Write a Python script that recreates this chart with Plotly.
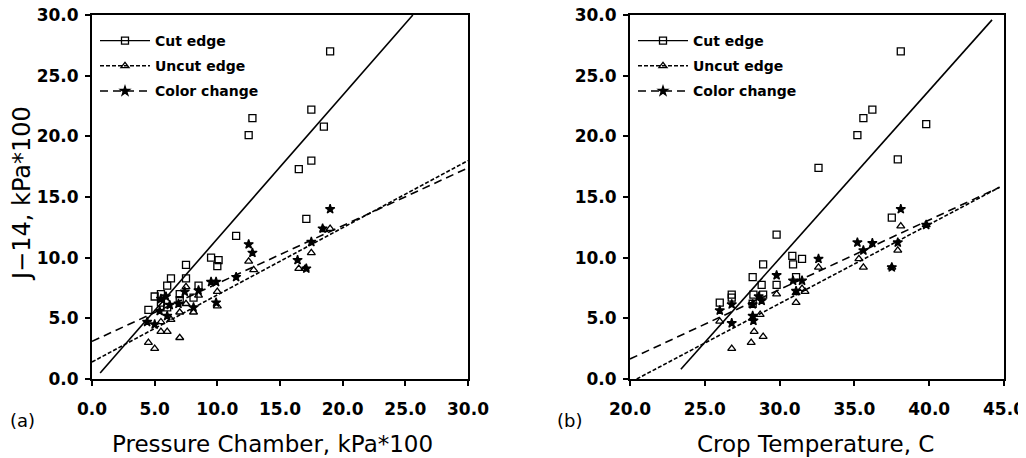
import plotly.graph_objects as go

# panel (a): pressure chamber, kPa*100
cut_a_x = [4.5, 5.0, 5.5, 5.5, 6.0, 6.0, 6.3, 7.0, 7.0, 7.5, 7.5, 8.1, 8.5, 9.5, 10.0, 10.1,
           11.5, 12.5, 12.8, 16.5, 17.1, 17.5, 17.5, 18.5, 19.0]
cut_a_y = [5.7, 6.8, 7.0, 6.3, 7.7, 5.9, 8.3, 7.0, 6.5, 9.4, 8.3, 6.7, 7.7, 10.0, 9.3, 9.8,
           11.8, 20.1, 21.5, 17.3, 13.2, 22.2, 18.0, 20.8, 27.0]
uncut_a_x = [4.5, 5.0, 5.5, 6.0, 5.5, 6.3, 7.0, 7.0, 7.5, 7.5, 8.1, 8.5, 10.0, 10.0,
             12.5, 12.9, 16.5, 17.0, 17.5, 18.5, 19.0]
uncut_a_y = [3.0, 2.5, 3.9, 3.9, 4.7, 4.9, 3.4, 5.5, 7.6, 6.2, 5.5, 6.9, 7.2, 6.0,
             9.7, 9.0, 9.1, 9.1, 10.4, 12.3, 12.4]
color_a_x = [4.4, 5.0, 5.4, 5.5, 5.9, 6.0, 6.2, 6.9, 7.4, 8.1, 8.5, 9.5, 9.9, 9.9,
             11.5, 12.5, 12.8, 16.4, 17.1, 17.5, 18.4, 19.0]
color_a_y = [4.7, 4.5, 5.6, 6.6, 6.8, 5.2, 6.1, 6.2, 7.2, 5.9, 7.3, 8.0, 8.0, 6.3,
             8.4, 11.1, 10.4, 9.8, 9.1, 11.3, 12.4, 14.0]
fit_cut_a_x, fit_cut_a_y = [0.65, 25.6], [0.5, 30.0]
fit_uncut_a_x, fit_uncut_a_y = [0.0, 30.0], [1.4, 18.0]
fit_color_a_x, fit_color_a_y = [0.0, 30.0], [3.1, 17.4]

# panel (b): crop temperature, C
cut_b_x = [26.0, 26.8, 26.8, 28.2, 28.2, 28.25, 28.8, 28.9, 28.9, 29.8, 29.8, 30.85, 30.9,
           31.1, 31.5, 32.6, 35.2, 35.6, 36.2, 37.5, 37.9, 38.1, 39.8]
cut_b_y = [6.3, 6.95, 6.7, 8.4, 6.2, 6.95, 7.75, 9.45, 6.95, 11.9, 7.75, 10.15, 9.45,
           8.4, 9.9, 17.4, 20.1, 21.5, 22.2, 13.3, 18.1, 27.0, 21.0]
uncut_b_x = [26.0, 26.8, 28.1, 28.3, 28.2, 28.7, 28.9, 29.8, 31.1, 31.1, 31.5, 31.7,
             32.6, 35.3, 35.6, 37.5, 37.9, 38.1, 39.8]
uncut_b_y = [4.75, 2.5, 3.0, 3.9, 5.0, 5.3, 3.5, 7.0, 7.1, 6.3, 7.45, 7.2,
             9.2, 9.9, 9.2, 9.2, 10.6, 12.6, 12.7]
color_b_x = [26.0, 26.8, 26.8, 28.2, 28.2, 28.25, 28.6, 28.8, 29.8, 30.9, 31.1, 31.5,
             32.6, 35.2, 35.6, 36.2, 37.5, 37.9, 38.1, 39.8]
color_b_y = [5.65, 6.15, 4.6, 6.15, 5.2, 4.8, 6.8, 6.45, 8.55, 8.1, 7.25, 8.1,
             9.9, 11.25, 10.6, 11.2, 9.2, 11.25, 14.0, 12.7]
fit_cut_b_x, fit_cut_b_y = [23.4, 44.2], [0.8, 29.6]
fit_uncut_b_x, fit_uncut_b_y = [20.45, 44.7], [0.0, 15.8]
fit_color_b_x, fit_color_b_y = [20.0, 44.7], [1.65, 15.8]

# the page keeps an 8px body margin, so size the figure to the rest of the window
OFF = 8
W, H = 1026 - OFF, 458 - OFF


def fx(px):
    return (px - OFF) / W


def fy(py):
    return 1 - (py - OFF) / H


TICK_FONT = dict(family="DejaVu Sans", size=17, color="black", weight="bold")
TITLE_FONT = dict(family="DejaVu Sans", size=23, color="black")
LEG_FONT = dict(family="DejaVu Sans", size=14, color="black", weight="bold")

series = [
    ("Cut edge", "square-open", 7, "solid"),
    ("Uncut edge", "triangle-up-open", 7, "4px,2px"),
    ("Color change", "star", 7, "8px,5px"),
]

panels = [
    ("x", "y", "legend",
     [(cut_a_x, cut_a_y), (uncut_a_x, uncut_a_y), (color_a_x, color_a_y)],
     [(fit_cut_a_x, fit_cut_a_y), (fit_uncut_a_x, fit_uncut_a_y), (fit_color_a_x, fit_color_a_y)]),
    ("x2", "y2", "legend2",
     [(cut_b_x, cut_b_y), (uncut_b_x, uncut_b_y), (color_b_x, color_b_y)],
     [(fit_cut_b_x, fit_cut_b_y), (fit_uncut_b_x, fit_uncut_b_y), (fit_color_b_x, fit_color_b_y)]),
]

fig = go.Figure()
for xa, ya, leg, pts, fits in panels:
    for (name, sym, size, dash), (px, py), (lx, ly) in zip(series, pts, fits):
        mk = dict(symbol=sym, size=size, color="black", line=dict(width=1.3, color="black"))
        fig.add_trace(go.Scatter(x=px, y=py, mode="markers", xaxis=xa, yaxis=ya,
                                 showlegend=False, marker=mk))
        fig.add_trace(go.Scatter(x=lx, y=ly, mode="lines", xaxis=xa, yaxis=ya, showlegend=False,
                                 line=dict(color="black", width=1.6, dash=dash)))
        # legend-only entry
        fig.add_trace(go.Scatter(x=[None], y=[None], mode="lines+markers", xaxis=xa, yaxis=ya,
                                 name=name, legend=leg, legendgroup=leg + name, marker=mk,
                                 line=dict(color="black", width=1.4, dash=dash)))


def axis(domain, rng, anchor, **kw):
    return dict(domain=domain, range=rng, anchor=anchor, dtick=5, tick0=0,
                tickformat=".1f", showgrid=False, zeroline=False, automargin=False,
                ticklabeloverflow="allow",
                showline=True, linecolor="black", linewidth=2, mirror=True,
                ticks="outside", ticklen=5, tickwidth=1.5, tickcolor="black",
                tickfont=TICK_FONT, **kw)


ydom = [fy(379), fy(15)]
legend_style = dict(y=fy(25), xanchor="left", yanchor="top", bgcolor="rgba(0,0,0,0)",
                    font=LEG_FONT, tracegroupgap=4, itemwidth=50)
fig.update_layout(
    template="none",
    width=W, height=H,
    margin=dict(l=0, r=0, t=0, b=0),
    paper_bgcolor="white", plot_bgcolor="white",
    xaxis=axis([fx(92), fx(468)], [0, 30], "y", ticklabelstandoff=9),
    yaxis=axis(ydom, [0, 30], "x", ticklabelstandoff=3),
    xaxis2=axis([fx(630), fx(1004)], [20, 45], "y2", ticklabelstandoff=9),
    yaxis2=axis(ydom, [0, 30], "x2", ticklabelstandoff=3),
    legend=dict(x=fx(95), **legend_style),
    legend2=dict(x=fx(633), **legend_style),
    annotations=[
        dict(text="J\u221214, kPa*100", x=fx(22), y=fy(194), textangle=-90,
             font=dict(TITLE_FONT, size=24)),
        dict(text="Pressure Chamber, kPa*100", x=fx(272), y=fy(444), font=TITLE_FONT),
        dict(text="Crop Temperature, C", x=fx(815), y=fy(444), font=TITLE_FONT),
        dict(text="(a)", x=fx(22), y=fy(420),
             font=dict(family="DejaVu Sans", size=18, color="black")),
        dict(text="(b)", x=fx(569), y=fy(420),
             font=dict(family="DejaVu Sans", size=18, color="black")),
    ],
)
fig.update_annotations(xref="paper", yref="paper", showarrow=False,
                       xanchor="center", yanchor="middle")

fig.write_html("out.html")
